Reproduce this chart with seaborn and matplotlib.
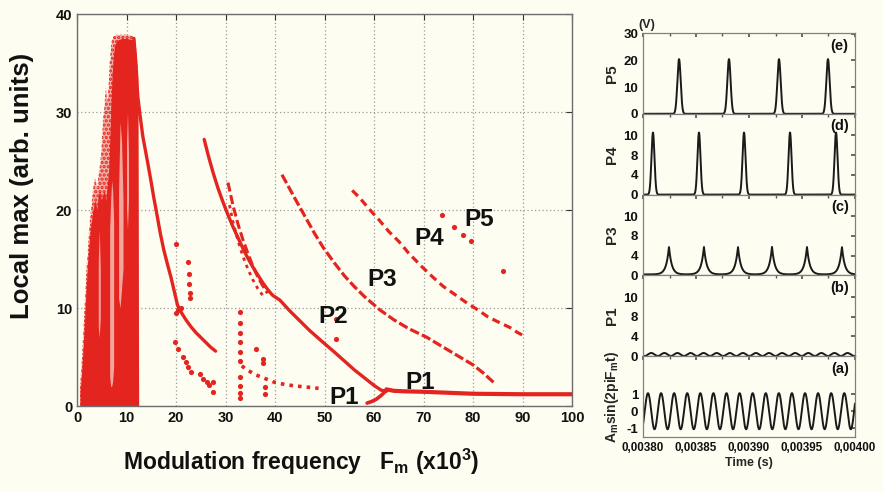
import numpy as np
import pandas as pd
import seaborn as sns
import matplotlib
matplotlib.use("Agg")
import matplotlib.pyplot as plt
from matplotlib.ticker import FixedLocator, MultipleLocator, FuncFormatter

# ---------------- data ----------------
# chaotic cloud: dense part and speckled upper part
cloud_x = [0.6, 0.8, 1.0, 1.3, 1.6, 1.9, 2.2, 2.5, 2.8, 3.1, 3.4, 3.7, 4.0, 4.3,
           4.6, 4.9, 5.2, 5.5, 5.8, 6.1, 6.4, 6.6, 6.8, 7.1, 7.5, 8.0, 9.0, 10.0,
           11.2, 11.6, 12.0, 12.3, 12.45]
cloud_dense = [1.5, 2.5, 4.0, 6.5, 9.5, 12.5, 15.0, 17.0, 18.5, 19.5, 20.5, 21.0, 20.0, 21.5,
               22.0, 21.0, 21.5, 22.0, 21.0, 22.5, 24.0, 27.0, 30.0, 34.0, 36.5, 37.3, 37.5, 37.5,
               37.4, 37.0, 35.5, 33.5, 0]
cloud_sparse = [2.0, 3.5, 5.0, 8.0, 11.0, 14.0, 16.0, 18.5, 20.0, 21.5, 22.8, 23.3, 22.0, 23.5,
                24.5, 26.0, 29.0, 30.5, 32.5, 31.0, 33.0, 35.0, 36.5, 37.5, 37.8, 37.9, 37.9, 37.9,
                37.8, 37.5, 36.0, 34.0, 0]
# lighter streaks inside the cloud
gap_x = [[6.6, 6.8, 7.0, 7.2, 7.4], [4.3, 4.5, 4.7], [8.4, 8.7, 9.0, 9.3], [10.0, 10.2, 10.4]]
gap_lo = [[3, 2, 2, 2.5, 4], [8, 7, 9], [11, 10, 12, 14], [20, 18, 21]]
gap_hi = [[18, 21, 23, 22, 19], [15, 18, 14], [22, 29, 27, 21], [27, 30, 26]]

branchA_x = [11.5, 11.8, 12.0, 12.3, 12.7, 13.3, 14.0, 14.4, 15.0, 15.5, 16.2, 16.8,
             17.5, 18.2, 19.0, 19.7, 20.3, 21.0, 22.0, 23.0, 24.0, 25.0, 26.0, 27.0, 28.0]
branchA_y = [37.5, 35.5, 33.5, 31.5, 29.8, 27.5, 25.6, 24.5, 22.8, 21.3, 19.4, 17.7,
             16.0, 14.6, 13.1, 11.6, 10.3, 9.6, 8.8, 8.1, 7.5, 7.0, 6.5, 6.0, 5.6]

p2_x = [25.7, 26.5, 27.5, 28.5, 29.5, 30.5, 31.5, 32.5, 33.5, 34.5, 35.5, 36.5, 37.5,
        38.5, 39.5, 41.0, 43.0, 45.0, 47.0, 49.7, 52.0, 54.0, 56.0, 58.0, 60.0, 61.5, 62.5]
p2_y = [27.2, 25.6, 23.8, 22.2, 20.8, 19.5, 18.3, 17.2, 16.1, 15.1, 14.2, 13.4, 12.6,
        11.9, 11.3, 10.8, 9.7, 8.7, 7.7, 6.5, 5.5, 4.6, 3.7, 2.9, 2.1, 1.6, 1.5]

b2_x = [30.5, 31.5, 32.5, 33.5, 34.5, 35.5, 36.5, 37.5, 38.5]
b2_y = [22.8, 20.5, 18.6, 17.0, 15.6, 14.3, 13.2, 12.3, 11.5]
b3_x = [30.8, 31.5, 32.5, 33.5, 34.5, 35.5, 36.5, 37.5]
b3_y = [20.5, 18.8, 16.9, 15.3, 14.0, 12.9, 12.0, 11.3]

p3_x = [41.4, 42.5, 44.0, 46.0, 48.0, 49.7, 52.0, 54.0, 56.0, 58.0, 61.2, 64.0, 67.0,
        70.7, 73.0, 76.0, 80.0, 82.0, 84.4]
p3_y = [23.6, 22.6, 21.2, 19.4, 17.6, 16.2, 14.6, 13.3, 12.2, 11.2, 9.8, 8.8, 7.9,
        7.0, 6.3, 5.4, 4.2, 3.4, 2.3]

p4_x = [55.6, 57.0, 59.2, 61.0, 63.0, 65.0, 67.0, 69.7, 72.0, 74.0, 76.0, 78.8, 81.0,
        83.0, 85.0, 87.5, 89.0, 90.5]
p4_y = [22.0, 21.3, 20.0, 19.0, 17.8, 16.8, 15.6, 14.2, 13.1, 12.2, 11.5, 10.5, 9.8,
        9.1, 8.6, 8.0, 7.5, 7.1]

p1_x = [62.5, 64, 66, 70, 75, 80, 90, 100]
p1_y = [1.7, 1.55, 1.5, 1.45, 1.35, 1.25, 1.2, 1.2]
p1low_x = [58.6, 59.5, 60.5, 61.5, 62.5]
p1low_y = [0.3, 0.45, 0.7, 1.1, 1.6]

low_x = [33.3, 34, 35, 36, 37, 38, 39, 40, 41, 42, 44, 46, 47, 48.8]
low_y = [4.1, 3.8, 3.5, 3.2, 3.0, 2.8, 2.6, 2.4, 2.3, 2.2, 2.05, 1.95, 1.9, 1.8]

dots_x = [33, 33, 33, 33, 33, 33, 33, 33, 33, 33, 36.2, 37.5, 37.6, 38, 38,
          73.7, 76.2, 78.0, 79.6, 86.0, 52.3, 52.3, 20.0,
          19.8, 20.5, 21.5, 22.0, 22.5, 23.0, 24.8, 25.5, 26.2, 26.7, 27.5, 27.5,
          22.5, 22.6, 22.7, 22.8, 22.9, 20.0, 20.5, 21.0]
dots_y = [0.8, 1.3, 2.0, 3.0, 4.6, 5.5, 6.5, 7.5, 8.5, 9.6, 5.8, 4.8, 4.4, 1.9, 1.2,
          19.5, 18.3, 17.4, 16.8, 13.8, 8.9, 6.8, 16.5,
          6.5, 5.8, 5.0, 4.5, 4.0, 3.5, 3.3, 2.8, 2.4, 2.1, 2.4, 1.4,
          14.7, 13.5, 12.5, 11.5, 11.0, 9.5, 9.8, 10.0]

labels_txt = ["P1", "P1", "P2", "P3", "P4", "P5"]
labels_x = [53.9, 69.3, 51.7, 61.6, 71.1, 81.2]
labels_y = [0.9, 2.4, 9.1, 12.9, 17.1, 19.0]

# time traces (right panels)
t_start, t_end = 0.00380, 0.00400
p5_peaks = [0.003834, 0.0038811, 0.0039283, 0.0039745]
p5_height = 20.5
p4_peaks = [0.0038094, 0.0038528, 0.0038953, 0.0039387, 0.0039821]
p4_height = 12.6
p3_peaks = [0.0038245, 0.0038575, 0.0038896, 0.0039217, 0.0039547, 0.0039877]
p3_height = 5.6
p1_level, p1_amp = 0.35, 0.3
sine_amp, sine_freq, sine_t0 = 1.05, 81.0e3, 0.0038047

RED = "#E3241F"
BG = "#FDFDF1"
GRIDC = "#9A9A9A"
SPINE = "#6E6E6E"
TXT = "#111111"

sns.set_theme(style="white")
plt.rcParams["font.family"] = ["Liberation Sans", "DejaVu Sans"]
plt.rcParams["font.weight"] = "bold"
plt.rcParams["mathtext.fontset"] = "custom"
plt.rcParams["mathtext.rm"] = "Liberation Sans:bold"
plt.rcParams["mathtext.it"] = "Liberation Sans:bold"
plt.rcParams["mathtext.bf"] = "Liberation Sans:bold"
plt.rcParams["mathtext.default"] = "rm"
plt.rcParams["hatch.linewidth"] = 1.6

fig = plt.figure(figsize=(8.83, 4.92), dpi=100, facecolor=BG)

# ---------------- main bifurcation axes ----------------
ax = fig.add_axes([77 / 883, 1 - 406 / 492, 495 / 883, 392 / 492])
ax.set_facecolor(BG)
ax.fill_between(cloud_x, 0, cloud_sparse, facecolor=RED, alpha=0.35, lw=0, zorder=2)
ax.fill_between(cloud_x, 0, cloud_sparse, facecolor="none", edgecolor=RED,
                hatch="....", lw=0, zorder=2)
ax.fill_between(cloud_x, 0, cloud_dense, color=RED, lw=0, zorder=2)
for gx, glo, ghi in zip(gap_x, gap_lo, gap_hi):
    ax.fill_between(gx, glo, ghi, color=BG, alpha=0.6, lw=0, zorder=2.5)

def line(xs, ys, lw=2.6, ls="-"):
    sns.lineplot(x=xs, y=ys, ax=ax, color=RED, lw=lw, ls=ls, sort=False,
                 estimator=None, zorder=3, legend=False)

line(branchA_x, branchA_y, lw=2.4)
line(p2_x, p2_y, lw=2.4)
line(b2_x, b2_y, lw=2.2, ls=(0, (3, 1.2)))
line(b3_x, b3_y, lw=2.0, ls=(0, (1.2, 1.6)))
line(p3_x, p3_y, lw=2.3, ls=(0, (3, 1.0)))
line(p4_x, p4_y, lw=2.3, ls=(0, (2.5, 1.5)))
line(p1_x, p1_y, lw=3.0)
line(p1low_x, p1low_y, lw=2.6)
line(low_x, low_y, lw=2.6, ls=(0, (1, 1.4)))
sns.scatterplot(x=dots_x, y=dots_y, ax=ax, color=RED, s=14, lw=0, zorder=3,
                legend=False)

for txt, lx, ly in zip(labels_txt, labels_x, labels_y):
    ax.text(lx, ly, txt, fontsize=17.5, fontweight="bold", ha="center",
            va="center", color=TXT, zorder=5)

ax.set_xlim(0, 100)
ax.set_ylim(0, 40)
ax.xaxis.set_major_locator(MultipleLocator(10))
ax.yaxis.set_major_locator(MultipleLocator(10))
ax.grid(True, color=GRIDC, ls=(0, (1, 2)), lw=0.9)
ax.tick_params(direction="in", length=4, width=0.8, colors="#333333",
               labelsize=10.5, top=True, right=True, labelcolor=TXT)
for lab in ax.get_xticklabels() + ax.get_yticklabels():
    lab.set_fontweight("bold")
for s in ax.spines.values():
    s.set_color(SPINE)
    s.set_linewidth(1.0)
ax.set_xlabel(r"Modulation frequency   F$_{m}$ (x10$^{3}$)", fontsize=16.5,
              fontweight="bold", color=TXT)
ax.xaxis.set_label_coords((301 - 77) / 495, -(462 - 406) / 392)
ax.xaxis.label.set_va("center")
ax.set_ylabel("Local max (arb. units)", fontsize=18.5, fontweight="bold",
              color=TXT)
ax.yaxis.set_label_coords((22 - 77) / 495, (406 - 186) / 392)
ax.yaxis.label.set_va("center")

# ---------------- right time panels ----------------
t = np.linspace(t_start, t_end, 3000)
y5 = sum(p5_height * np.exp(-((t - c) / 2.2e-6) ** 2) for c in p5_peaks)
y4 = sum(p4_height * np.exp(-((t - c) / 2.0e-6) ** 2) for c in p4_peaks)
y3 = 0.2 + sum(p3_height * np.exp(-np.abs(t - c) / 2.6e-6) for c in p3_peaks)
y1 = p1_level + p1_amp * np.sin(2 * np.pi * sine_freq * (t - sine_t0))
ya = sine_amp * np.cos(2 * np.pi * sine_freq * (t - sine_t0))

panel_left, panel_w = 643 / 883, 212 / 883
top_px, bot_px = 33, 437
ph = (bot_px - top_px) / 5
specs = [
    ("(e)", "P5", y5, (0, 30.3), [0, 10, 20, 30], ["0", "10", "20", "30"]),
    ("(d)", "P4", y4, (0, 16.4), [0, 4, 8, 12], ["0", "4", "8", "10"]),
    ("(c)", "P3", y3, (0, 16.4), [0, 4, 8, 12], ["0", "4", "8", "10"]),
    ("(b)", "P1", y1, (0, 16.4), [0, 4, 8, 12], ["0", "4", "8", "10"]),
    ("(a)", r"A$_{m}$sin(2piF$_{m}$t)", ya, (-1.5, 3.2), [-1, 0, 1], ["-1", "0", "1"]),
]
for i, (tag, ylab, yv, ylim, yt, ytl) in enumerate(specs):
    y0 = 1 - (top_px + (i + 1) * ph) / 492
    a = fig.add_axes([panel_left, y0, panel_w, ph / 492])
    a.set_facecolor(BG)
    sns.lineplot(x=t, y=yv, ax=a, color="#1A1A1A", lw=1.4, legend=False)
    a.set_xlim(t_start, t_end)
    a.set_ylim(*ylim)
    a.yaxis.set_major_locator(FixedLocator(yt))
    a.set_yticklabels(ytl)
    a.xaxis.set_major_locator(MultipleLocator(0.00005))
    a.xaxis.set_minor_locator(MultipleLocator(0.000025))
    a.tick_params(which="both", direction="in", top=True, right=True,
                  colors="#555555", labelcolor=TXT, labelsize=9.5)
    a.tick_params(which="major", length=3)
    a.tick_params(which="minor", length=2)
    for lab in a.get_yticklabels():
        lab.set_fontweight("bold")
    for s in a.spines.values():
        s.set_color("#808080")
        s.set_linewidth(0.9)
    a.text(0.97, 0.93, tag, transform=a.transAxes, ha="right", va="top",
           fontsize=10.5, fontweight="bold", color=TXT)
    if i == 4:
        a.set_ylabel(ylab, fontsize=10, fontweight="bold", labelpad=4)
        a.xaxis.set_major_formatter(FuncFormatter(lambda v, p: f"{v:.5f}".replace(".", ",")))
        a.tick_params(axis="x", labelsize=8.4)
        for lab in a.get_xticklabels():
            lab.set_fontweight("bold")
        a.set_xlabel("Time (s)", fontsize=9, fontweight="bold", labelpad=2)
    else:
        a.set_ylabel(ylab, fontsize=11, fontweight="bold", labelpad=3)
        a.set_xticklabels([])
    if i == 0:
        a.text(-0.02, 1.02, "(V)", transform=a.transAxes, ha="left",
               va="bottom", fontsize=9, fontweight="bold")

fig.savefig("out.png", dpi=100, facecolor=BG)
